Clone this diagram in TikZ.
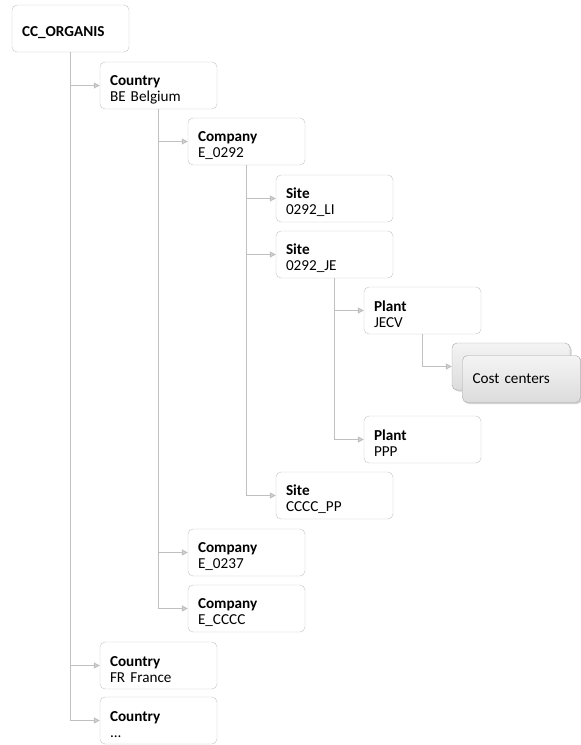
\documentclass[tikz,border=0pt]{standalone}
\usepackage{fontspec}
\setmainfont{Carlito}
\usepackage{tikz}
\usetikzlibrary{arrows.meta}
\usetikzlibrary{shadows}

\definecolor{boxline}{HTML}{C4C4C4}
\definecolor{connline}{HTML}{C0C0C0}
\definecolor{costline}{HTML}{A6A6A6}
\definecolor{costtop}{HTML}{F4F4F4}
\definecolor{costbot}{HTML}{DCDCDC}

\tikzset{
  unit/.style={draw=boxline, fill=white, rounded corners=5pt, minimum width=117pt,
    minimum height=47pt, text width=97pt, inner xsep=10pt, align=left,
    font=\fontsize{15.2}{16}\selectfont,
    execute at begin node={\rule{0pt}{18.5pt}}},
  rootbox/.style={unit, execute at begin node={\rule{0pt}{12pt}}},
  costbox/.style={draw=costline, rounded corners=5pt, top color=costtop, bottom color=costbot,
    minimum width=118pt, minimum height=47pt, text width=98pt, inner xsep=10pt, align=left,
    font=\fontsize{15.2}{16}\selectfont,
    drop shadow={opacity=0.35, shadow xshift=1.5pt, shadow yshift=-1.5pt}},
  conn/.style={draw=connline, line width=1pt,
    -{Triangle[length=6pt, width=6pt, fill=connline!70]}}
}

\begin{document}
\begin{tikzpicture}[x=1pt, y=-1pt]

\useasboundingbox (0,0) rectangle (581,745);

% root

\node[rootbox] (root) at (70.5, 28.5) {\textbf{CC\_ORGANIS}};

% countries
\node[unit] (be) at (158.5, 85.5) {\textbf{Country}\\BE Belgium};
\node[unit] (fr) at (158.5, 665.5) {\textbf{Country}\\FR France};
\node[unit] (cx) at (158.5, 720.5) {\textbf{Country}\\...};

% companies
\node[unit] (e0292) at (246.5, 141.5) {\textbf{Company}\\E\_0292};
\node[unit] (e0237) at (246.5, 552.5) {\textbf{Company}\\E\_0237};
\node[unit] (ecccc) at (246.5, 608.5) {\textbf{Company}\\E\_CCCC};

% sites
\node[unit] (li) at (334.5, 198.5) {\textbf{Site}\\0292\_LI};
\node[unit] (je) at (334.5, 254.5) {\textbf{Site}\\0292\_JE};
\node[unit] (cc) at (334.5, 495.5) {\textbf{Site}\\CCCC\_PP};

% plants
\node[unit] (jecv) at (422.5, 310.5) {\textbf{Plant}\\JECV};
\node[unit] (ppp) at (422.5, 439.5) {\textbf{Plant}\\PPP};

% cost centers
\node[costbox] (cost1) at (511, 366.5) {};
\node[costbox] (cost2) at (521.5, 379) {Cost centers};

% root -> country
\draw [conn] (root.south) |- (be.west);
\draw [conn] (root.south) |- (fr.west);
\draw [conn] (root.south) |- (cx.west);

% country -> company
\draw [conn] (be.south) |- (e0292.west);
\draw [conn] (be.south) |- (e0237.west);
\draw [conn] (be.south) |- (ecccc.west);

% company -> site
\draw [conn] (e0292.south) |- (li.west);
\draw [conn] (e0292.south) |- (je.west);
\draw [conn] (e0292.south) |- (cc.west);

% site -> plant
\draw [conn] (je.south) |- (jecv.west);
\draw [conn] (je.south) |- (ppp.west);

% plant -> cost centers
\draw [conn] (jecv.south) |- (cost1.west);

\end{tikzpicture}
\end{document}
